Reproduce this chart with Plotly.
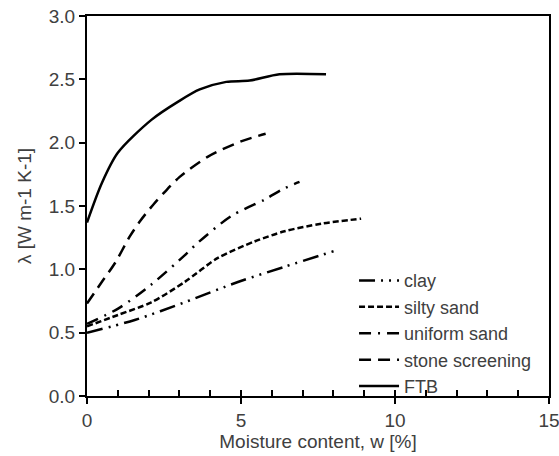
import plotly.graph_objects as go

# Data
clay_x = [0, 1.55, 3.17, 4.9, 6.41, 8.1]
clay_y = [0.50, 0.60, 0.74, 0.90, 1.02, 1.15]

silty_x = [0, 1.01, 2.09, 3.17, 4.25, 5.44, 6.41, 7.6, 8.9]
silty_y = [0.55, 0.64, 0.74, 0.90, 1.09, 1.22, 1.30, 1.36, 1.40]

uniform_x = [0, 1.01, 2.09, 3.17, 3.6, 4.68, 5.76, 6.41, 6.9]
uniform_y = [0.57, 0.69, 0.88, 1.11, 1.21, 1.42, 1.55, 1.64, 1.69]

stone_x = [0, 0.48, 0.91, 1.39, 1.72, 2.15, 2.52, 3.01, 3.93, 5.0, 5.8]
stone_y = [0.73, 0.90, 1.05, 1.26, 1.38, 1.51, 1.61, 1.73, 1.89, 2.01, 2.07]

ftb_x = [0, 0.48, 1.0, 2.09, 3.0, 3.66, 4.52, 5.28, 6.25, 7.76]
ftb_y = [1.37, 1.68, 1.92, 2.18, 2.33, 2.42, 2.48, 2.49, 2.54, 2.54]

x_ticks = [0, 5, 10, 15]
y_ticks = [0.0, 0.5, 1.0, 1.5, 2.0, 2.5, 3.0]

FONT = "Liberation Sans, Arial, sans-serif"
TXT = "#404040"
FS = 19

series = [
    ("clay", clay_x, clay_y, "16px,6px,2px,6px,2px,6px"),
    ("silty sand", silty_x, silty_y, "6px,3px"),
    ("uniform sand", uniform_x, uniform_y, "12px,7px,2px,7px"),
    ("stone screening", stone_x, stone_y, "12px,7px"),
    ("FTB", ftb_x, ftb_y, "solid"),
]

fig = go.Figure()
for name, xs, ys, dash in series:
    fig.add_trace(go.Scatter(
        x=xs, y=ys, name=name, mode="lines",
        line=dict(color="black", width=2.5, dash=dash, shape="spline", smoothing=0.8),
    ))

# invisible trace for the inside minor-tick axis
fig.add_trace(go.Scatter(x=[0], y=[0], xaxis="x2", mode="markers",
                         marker=dict(opacity=0), showlegend=False, hoverinfo="skip"))

fig.update_layout(
    width=559, height=456,
    margin=dict(l=87, r=10, t=16, b=60),
    paper_bgcolor="white", plot_bgcolor="white",
    font=dict(family=FONT, size=FS, color=TXT),
    showlegend=True,
    legend=dict(x=0.578, y=0.352, xanchor="left", yanchor="top",
                bgcolor="rgba(0,0,0,0)", font=dict(size=18, color=TXT),
                tracegroupgap=0, itemwidth=40),
    xaxis=dict(range=[0, 15], tickvals=x_ticks, ticks="outside", ticklen=6,
               tickwidth=2, tickcolor="black", showline=True, linecolor="black",
               linewidth=2, mirror=True, showgrid=False, zeroline=False,
               automargin=False, ticklabeloverflow="allow",
               title=dict(text="Moisture content, w [%]", standoff=4,
                          font=dict(size=FS, color=TXT)),
               tickfont=dict(size=FS, color=TXT)),
    xaxis2=dict(range=[0, 15], overlaying="x", dtick=1, tick0=0, ticks="inside",
                ticklen=6, tickwidth=2, tickcolor="black", showticklabels=False,
                showgrid=False, zeroline=False, side="bottom", showline=False,
                automargin=False),
    yaxis=dict(range=[0, 3], tickvals=y_ticks, tickformat=".1f", ticks="outside",
               ticklen=6, tickwidth=2, tickcolor="black", showline=True,
               linecolor="black", linewidth=2, mirror=True, showgrid=False,
               zeroline=False, automargin=False, ticklabeloverflow="allow",
               title=dict(text="λ [W m-1 K-1]", standoff=12,
                          font=dict(size=FS, color=TXT)),
               tickfont=dict(size=FS, color=TXT)),
)

fig.write_html("out.html")
